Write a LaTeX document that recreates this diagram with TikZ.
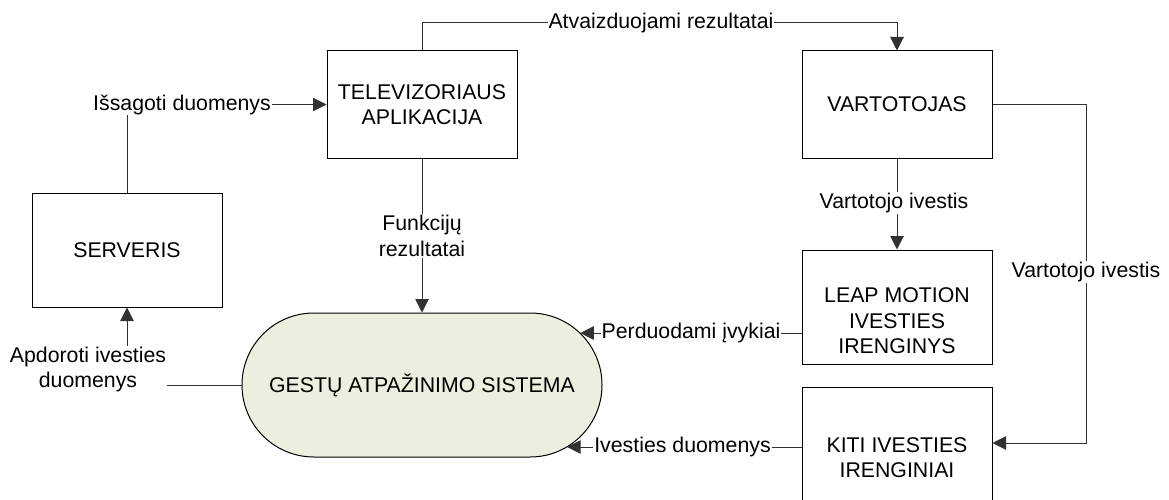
\documentclass[tikz,border=0pt]{standalone}
\usepackage{fontspec}
\setmainfont{Liberation Sans}
\usetikzlibrary{arrows.meta,calc}
\definecolor{procfill}{RGB}{235,240,222}
\definecolor{flowline}{RGB}{50,50,50}
\begin{document}
\begin{tikzpicture}[x=1pt,y=-1pt,
  every node/.style={font=\fontsize{21.3}{25.5}\selectfont, inner sep=0pt},
  entity/.style={draw=black, line width=1pt, minimum width=190pt, align=center},
  process/.style={draw=black, line width=1pt, fill=procfill, minimum width=360pt,
    minimum height=144pt, rounded corners=71.9pt},
  flow/.style={draw=flowline, line width=1pt},
  arrowflow/.style={flow, -{Triangle[length=13.5pt,width=13.5pt]}},
  flowlabel/.style={fill=white, inner xsep=1pt, inner ysep=1pt, align=center},
]
\useasboundingbox (0,0) rectangle (1169,500);
\clip (0,0) rectangle (1169,500);

% external entities
\node[entity, minimum height=107pt] (tv) at (422,104.5) {TELEVIZORIAUS\\APLIKACIJA};
\node[entity, minimum height=107pt] (user) at (897,104.5) {VARTOTOJAS};
\node[entity, minimum height=114pt] (server) at (127,250) {SERVERIS};
\node[entity, minimum height=114pt] (leap) at (897,307) {};
\node[align=center] (leaptext) at (897,321) {LEAP MOTION\\IVESTIES\\IRENGINYS};
\node[entity, minimum height=141pt] (kiti) at (897,457.5) {KITI IVESTIES\\IRENGINIAI};

% central process
\node[process] (gest) at (422,385) {GESTŲ ATPAŽINIMO SISTEMA};

% ports on the rounded end of the process
\coordinate (gin1) at ($(gest.east)+(-22.2,-52)$);
\coordinate (gin2) at ($(gest.east)+(-35.4,62)$);
\coordinate (kin) at ($(kiti.east)+(0,-14.5)$);

% data flows
\draw[arrowflow] (tv.north) -- ++(0,-28) -| (user.north);
\draw[arrowflow] (server.north) |- (tv.west);
\draw[arrowflow] (tv.south) -- (gest.north);
\draw[arrowflow] (gest.west) -| (server.south);
\draw[arrowflow] (user.south) -- (leap.north);
\draw[arrowflow] (user.east) -- ++(94,0) |- (kin);
\draw[arrowflow] (gin1 -| leap.west) -- (gin1);
\draw[arrowflow] (gin2 -| kiti.west) -- (gin2);

% flow labels
\node[flowlabel] (l1) at (661,23) {Atvaizduojami rezultatai};
\node[flowlabel] (l2) at (182,104.5) {Išsagoti duomenys};
\node[flowlabel] (l3) at (422,236) {Funkcijų\\rezultatai};
\node[flowlabel] (l4) at (88,369.5) {Apdoroti ivesties\\duomenys};
\node[flowlabel] (l5) at (894,203) {Vartotojo ivestis};
\node[flowlabel] (l6) at (1086,272) {Vartotojo ivestis};
\node[flowlabel] (l7) at (691,333) {Perduodami įvykiai};
\node[flowlabel] (l8) at (682.5,447) {Ivesties duomenys};
\end{tikzpicture}
\end{document}
